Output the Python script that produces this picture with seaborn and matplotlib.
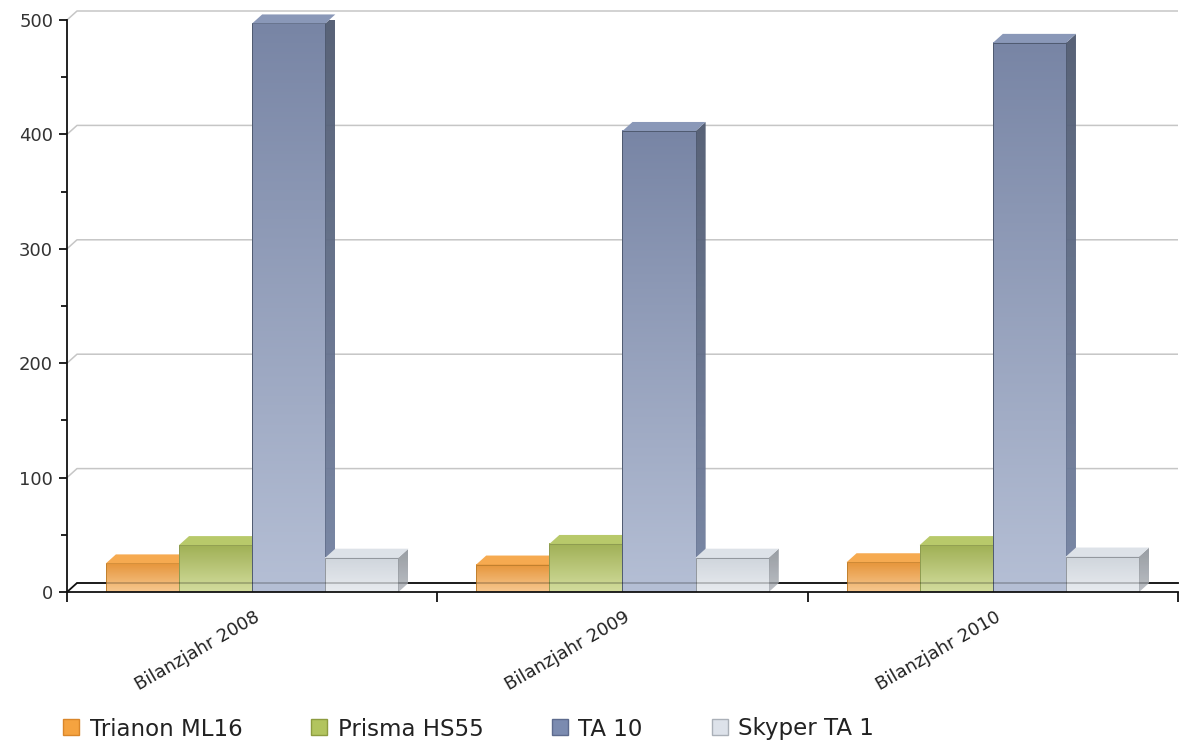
import numpy as np
import pandas as pd
import matplotlib
matplotlib.use("Agg")
import matplotlib.pyplot as plt
import seaborn as sns
from matplotlib.colors import LinearSegmentedColormap
from matplotlib.patches import Polygon
from matplotlib.lines import Line2D
from matplotlib.transforms import ScaledTranslation
from matplotlib.ticker import MultipleLocator, FixedLocator

# ---- data ----
years = ["Bilanzjahr 2008", "Bilanzjahr 2009", "Bilanzjahr 2010"]
series = ["Trianon ML16", "Prisma HS55", "TA 10", "Skyper TA 1"]
trianon = [25, 24, 26]
prisma = [41, 42, 41]
ta10 = [497, 403, 480]
skyper = [30, 30, 31]

# ---- styles ----
legend_colors = ["#f5a340", "#b2c45e", "#7b8bb0", "#dde2ea"]
legend_edges = ["#d9862a", "#8d9c40", "#5d6b8e", "#aab0b8"]
front_top = ["#e6953a", "#a0b055", "#7885a5", "#cfd5dc"]
front_bot = ["#f7c890", "#d3dd9e", "#b5bfd5", "#e8ebef"]
top_face = ["#f6aa50", "#b8c96a", "#8a98b8", "#dde2e8"]
side_top = ["#c0802e", "#8e9c50", "#4f5a70", "#92979d"]
side_bot = ["#d9a060", "#b0bc80", "#7482a2", "#b8bcc2"]

df = pd.DataFrame({
    "year": np.repeat(years, len(series)),
    "series": series * len(years),
    "value": [v for trip in zip(trianon, prisma, ta10, skyper) for v in trip],
})

W, H, DPI = 1179, 742, 100
fig = plt.figure(figsize=(W / DPI, H / DPI), dpi=DPI)
ax = fig.add_axes([67 / W, (H - 592) / H, (1178 - 67) / W, (592 - 20) / H])

sns.barplot(data=df, x="year", y="value", hue="series", order=years,
            hue_order=series, palette=legend_colors, width=0.79, gap=0,
            saturation=1, legend=False, ax=ax, zorder=3)

ax.set_xlim(-0.5, len(years) - 0.5)
ax.set_ylim(0, 500)

# depth offsets in data units
ax_w_px = (1178 - 67)
ax_h_px = (592 - 20)
dx = 10 * (len(years)) / ax_w_px
dy = 9 * 500 / ax_h_px

# gridlines with perspective
x0, x1 = -0.5, len(years) - 0.5
for v in range(100, 501, 100):
    ax.plot([x0, x0 + dx, x1], [v, v + dy, v + dy], color="#c6c6c6", lw=1.1,
            zorder=1, clip_on=False, solid_capstyle="butt")
ax.plot([x0, x0 + dx, x1], [0, dy, dy], color="#111111", lw=1.3, zorder=1,
        clip_on=False)
# floor line faintly visible through translucent bars
ax.plot([x0 + dx, x1], [dy, dy], color="#000000", lw=1.3, alpha=0.22,
        zorder=25, clip_on=False)

# 3D bars
grad = np.linspace(0, 1, 256).reshape(-1, 1)
for si, cont in enumerate(ax.containers):
    cmap = LinearSegmentedColormap.from_list("g", [front_bot[si], front_top[si]])
    scmap = LinearSegmentedColormap.from_list("s", [side_bot[si], side_top[si]])
    for patch in cont.patches:
        bx = patch.get_x()
        bw = patch.get_width()
        bh = patch.get_height()
        patch.set_facecolor("none")
        patch.set_edgecolor(side_top[si])
        patch.set_linewidth(0.7)
        patch.set_zorder(4 + si * 3 + 0.5)
        ax.imshow(grad, extent=[bx, bx + bw, 0, bh], origin="lower",
                  aspect="auto", cmap=cmap, zorder=4 + si * 3)
        side = Polygon([[bx + bw, 0], [bx + bw + dx, dy], [bx + bw + dx, bh + dy],
                        [bx + bw, bh]], closed=True, facecolor="none",
                       edgecolor="none", zorder=4 + si * 3 + 1, clip_on=False)
        ax.add_patch(side)
        im = ax.imshow(grad, extent=[bx + bw, bx + bw + dx, 0, bh + dy],
                       origin="lower", aspect="auto", cmap=scmap,
                       zorder=4 + si * 3 + 1, alpha=0.95)
        im.set_clip_path(side)
        top = Polygon([[bx, bh], [bx + dx, bh + dy], [bx + bw + dx, bh + dy],
                       [bx + bw, bh]], closed=True, facecolor=top_face[si],
                      edgecolor="none", zorder=4 + si * 3 + 2, clip_on=False)
        ax.add_patch(top)

ax.set_xlim(-0.5, len(years) - 0.5)
ax.set_ylim(0, 500)

# axes styling
for s in ["top", "right"]:
    ax.spines[s].set_visible(False)
for s in ["left", "bottom"]:
    ax.spines[s].set_color("#111111")
    ax.spines[s].set_linewidth(1.3)
    ax.spines[s].set_zorder(30)
ax.set_facecolor("white")
ax.grid(False)
ax.set_xlabel("")
ax.set_ylabel("")

ax.yaxis.set_major_locator(MultipleLocator(100))
ax.yaxis.set_minor_locator(MultipleLocator(50))
ax.tick_params(axis="y", which="major", length=6, width=1.3, color="#111111",
               labelsize=13, labelcolor="#333333", pad=4)
ax.tick_params(axis="y", which="minor", length=4, width=1.3, color="#111111")

ax.xaxis.set_minor_locator(FixedLocator(np.arange(len(years) + 1) - 0.5))
ax.tick_params(axis="x", which="minor", length=7, width=1.3, color="#111111")
ax.tick_params(axis="x", which="major", length=0, labelsize=13,
               labelcolor="#222222", pad=14)
for lbl in ax.get_xticklabels():
    lbl.set_rotation(30)
    lbl.set_ha("right")
    lbl.set_va("center")
    lbl.set_rotation_mode("anchor")
    lbl.set_transform(lbl.get_transform() +
                      ScaledTranslation(6 / DPI, -4 / DPI, fig.dpi_scale_trans))

# legend
handles = [Line2D([], [], marker="s", linestyle="none", markersize=11,
                  markerfacecolor=c, markeredgecolor=e, markeredgewidth=1.0)
           for c, e in zip(legend_colors, legend_edges)]
fig.legend(handles, series, loc="center left",
           bbox_to_anchor=(60 / W, 1 - 729 / H), ncol=4, frameon=False,
           fontsize=16.5, handletextpad=0.3, columnspacing=2.85,
           handlelength=1.0, labelcolor="#222222", borderaxespad=0,
           borderpad=0)

fig.savefig("out.png", dpi=DPI, facecolor="white")
